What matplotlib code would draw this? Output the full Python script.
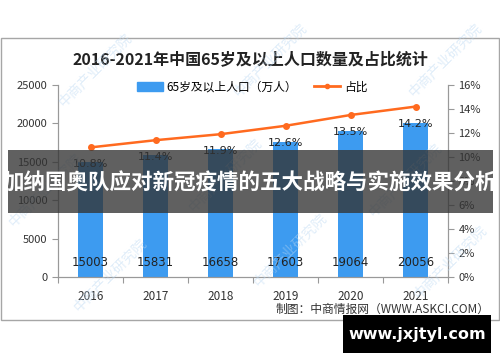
import matplotlib.pyplot as plt
from matplotlib.patches import Rectangle
from matplotlib.lines import Line2D
from matplotlib.patches import Patch

plt.rcParams['font.family'] = ['Noto Sans CJK SC', 'DejaVu Sans']

years = ['2016', '2017', '2018', '2019', '2020', '2021']
population = [15003, 15831, 16658, 17603, 19064, 20056]
share = [10.8, 11.4, 11.9, 12.6, 13.5, 14.2]
left_ticks = [0, 5000, 10000, 15000, 20000, 25000]
right_ticks = [0, 2, 4, 6, 8, 10, 12, 14, 16]

W, H = 500, 362
fig = plt.figure(figsize=(5, 3.62), dpi=100)

def px(x, y):
    return x / W, 1 - y / H

# outer frame
fig.patches.append(Rectangle(px(1, 320), 498 / W, 282 / H, transform=fig.transFigure,
                             fill=False, edgecolor='#a6a6a6', lw=1))

ax = fig.add_axes([58 / W, 85 / H, 390 / W, 192 / H])
ax2 = ax.twinx()

x = list(range(len(years)))
ax.bar(x, population, width=0.37, color='#3d9bf0', zorder=2)
ax.set_xlim(-0.5, len(years) - 0.5)
ax.set_ylim(0, 25000)
ax.set_yticks(left_ticks)
ax.set_yticklabels([str(t) for t in left_ticks], fontsize=8, color='#333333')
ax.set_xticks([i - 0.5 for i in range(len(years) + 1)], minor=False)
ax.set_xticklabels([])
ax.set_xticks(x, minor=True)
ax.set_xticklabels(years, minor=True, fontsize=8.5, color='#333333')
ax.tick_params(axis='x', which='minor', length=0, pad=9)
ax.tick_params(axis='x', which='major', length=4, color='#999999')
ax.tick_params(axis='y', length=4, color='#999999')

for i, v in enumerate(population):
    ax.annotate(str(v), (i, 0), xytext=(0, 14), textcoords='offset pixels',
                ha='center', va='center', fontsize=8.5, color='#222222',
                family='DejaVu Sans')

ax2.plot(x, share, color='#ff6a1f', lw=1.8, marker='o', ms=4, zorder=3)
ax2.set_ylim(0, 16)
ax2.set_yticks(right_ticks)
ax2.set_yticklabels([f'{t}%' for t in right_ticks], fontsize=8, color='#333333')
ax2.tick_params(axis='y', length=4, color='#999999')
for i, v in enumerate(share):
    ax2.annotate(f'{v}%', (i, v), xytext=(0, -17), textcoords='offset pixels',
                 ha='center', va='center', fontsize=8, color='#222222',
                 family='DejaVu Sans')

for a in (ax, ax2):
    a.patch.set_visible(False)
    a.spines['top'].set_visible(False)
    a.spines['left'].set_color('#999999')
    a.spines['right'].set_color('#999999')
    a.spines['bottom'].set_color('#999999')

fig.text(*px(250, 59), '2016-2021年中国65岁及以上人口数量及占比统计', ha='center', va='center',
         fontsize=11.5, fontweight='bold', color='#222222')

handles = [Patch(color='#3d9bf0'),
           Line2D([0], [0], color='#ff6a1f', lw=2, marker='o', ms=3)]
fig.legend(handles, ['65岁及以上人口（万人）', '占比'], loc='center', bbox_to_anchor=px(252, 87),
           ncol=2, frameon=False, fontsize=8.5, handlelength=2.2, columnspacing=1.5,
           handletextpad=0.3)

fig.text(*px(490, 309), '制图：中商情报网（WWW.ASKCI.COM）', ha='right', va='center',
         fontsize=8.5, color='#333333')

# watermarks
for wx, wy in [(95, 70), (270, 60), (445, 60), (45, 190), (225, 175), (405, 180),
               (110, 275), (290, 250), (450, 262)]:
    fig.text(*px(wx, wy), '中商产业研究院', rotation=45, ha='center', va='center',
             fontsize=10, color='#b9d7f2', alpha=0.45, zorder=5)

# banner overlay
fig.patches.append(Rectangle(px(8, 213), 485 / W, 63 / H, transform=fig.transFigure,
                             facecolor='#333333', alpha=0.78, edgecolor='none', zorder=10))
fig.text(*px(250, 183), '加纳国奥队应对新冠疫情的五大战略与实施效果分析', ha='center', va='center',
         fontsize=15.5, fontweight='bold', color='white', zorder=11)

fig.patches.append(Rectangle(px(343, 353), 148 / W, 38 / H, transform=fig.transFigure,
                             facecolor='black', edgecolor='none', zorder=10))
fig.text(*px(417, 334), 'www.jxjtyl.com', ha='center', va='center', fontsize=11.5,
         fontweight='bold', color='white', family='DejaVu Sans', zorder=11)

fig.savefig('out.png', dpi=100)
